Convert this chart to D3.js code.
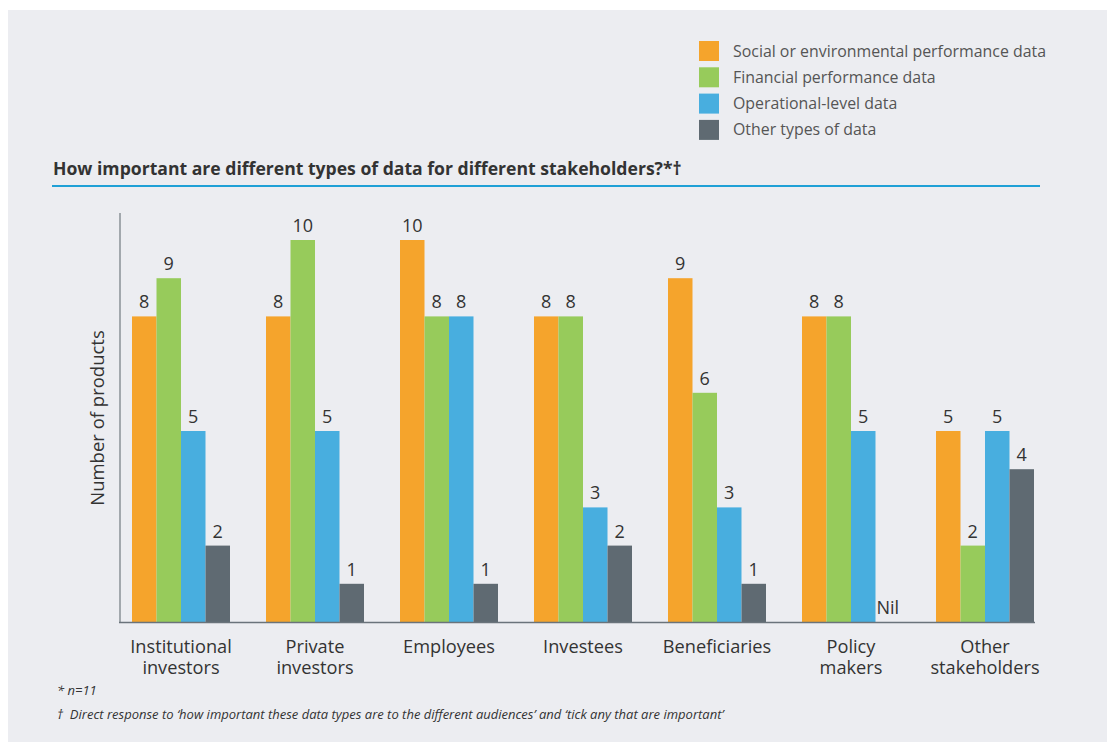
<!DOCTYPE html>
<html><head><meta charset="utf-8">
<script src="https://cdn.jsdelivr.net/npm/d3@7"></script>
<style>
html,body{margin:0;padding:0;background:#fff;}
svg{display:block;font-family:"Open Sans",Lato,sans-serif;}
</style></head>
<body>
<svg id="chart" width="1107" height="742"></svg>
<script>
const categories = [["Institutional","investors"],["Private","investors"],["Employees"],["Investees"],["Beneficiaries"],["Policy","makers"],["Other","stakeholders"]];
const seriesNames = ["Social or environmental performance data","Financial performance data","Operational-level data","Other types of data"];
const socialEnv = [8,8,10,8,9,8,5];
const financial = [9,10,8,8,6,8,2];
const operational = [5,5,8,3,3,5,5];
const other = [2,1,1,2,1,0,4];
const colors = ["#f5a42c","#97cb5b","#48aedf","#5f6a72"];
const titleText = "How important are different types of data for different stakeholders?*\u2020";
const yLabel = "Number of products";
const notes = ["* n=11","\u2020  Direct response to \u2018how important these data types are to the different audiences\u2019 and \u2018tick any that are important\u2019"];

const series = [socialEnv, financial, operational, other];
const svg = d3.select("#chart");
svg.append("rect").attr("x",8).attr("y",10).attr("width",1099).attr("height",732).attr("fill","#ecedf1");

// Legend
const lg = svg.append("g");
seriesNames.forEach((n,i)=>{
  lg.append("rect").attr("x",699).attr("y",41+i*26.3).attr("width",20).attr("height",20).attr("fill",colors[i]);
  lg.append("text").attr("x",733).attr("y",56.5+i*26.3).attr("font-size",15.9).attr("fill","#555").text(n);
});

// Title
svg.append("text").attr("x",53).attr("y",175).attr("font-size",17.6).attr("font-weight","bold").attr("fill","#333").text(titleText);
svg.append("line").attr("x1",52).attr("x2",1040).attr("y1",186).attr("y2",186).attr("stroke","#1fa0d6").attr("stroke-width",2);

// Scales
const x0 = d3.scaleBand().domain(d3.range(categories.length)).range([120,1046]).paddingInner(0.2687).paddingOuter(0.0896);
const x1 = d3.scaleBand().domain(d3.range(4)).range([0,x0.bandwidth()]);
const y = d3.scaleLinear().domain([0,10]).range([622,240]);

const g = svg.append("g");
categories.forEach((c,ci)=>{
  series.forEach((s,si)=>{
    const v = s[ci];
    const bx = x0(ci)+x1(si);
    if (v>0) {
      g.append("rect").attr("x",bx).attr("y",y(v)).attr("width",x1.bandwidth()).attr("height",y(0)-y(v)).attr("fill",colors[si]);
    }
    g.append("text").attr("x",bx+x1.bandwidth()/2).attr("y",y(v)-8).attr("text-anchor","middle")
      .attr("font-size",18).attr("fill","#333").text(v>0? v : "Nil");
  });
  c.forEach((line,li)=>{
    g.append("text").attr("text-anchor","middle").attr("font-size",18.2).attr("fill","#333")
      .attr("x",x0(ci)+x0.bandwidth()/2).attr("y",652.5+li*21.5).text(line);
  });
});

// Axes
svg.append("line").attr("x1",120).attr("x2",120).attr("y1",213).attr("y2",623).attr("stroke","#8a9096").attr("stroke-width",1.5);
svg.append("line").attr("x1",119).attr("x2",1035).attr("y1",622.5).attr("y2",622.5).attr("stroke","#6a737b").attr("stroke-width",1.5);

svg.append("text").attr("transform","translate(104,418) rotate(-90)").attr("text-anchor","middle")
  .attr("font-size",18.5).attr("fill","#333").text(yLabel);

// Notes
svg.append("text").attr("x",57).attr("y",695).attr("font-size",13).attr("font-style","italic").attr("fill","#333").text(notes[0]);
svg.append("text").attr("x",57).attr("y",719).attr("font-size",13).attr("font-style","italic").attr("fill","#333").attr("xml:space","preserve").text(notes[1]);
</script>
</body></html>
